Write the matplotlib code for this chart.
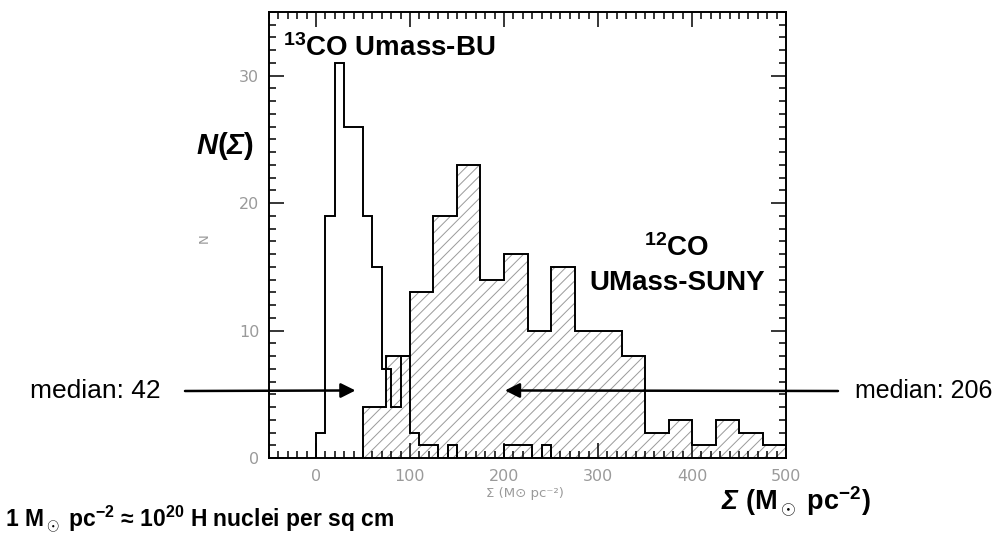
import numpy as np
import matplotlib
matplotlib.use("Agg")
import matplotlib.pyplot as plt

plt.rcParams['font.family'] = ['Liberation Sans', 'DejaVu Sans']
plt.rcParams['mathtext.fontset'] = 'custom'
plt.rcParams['mathtext.rm'] = 'Liberation Sans:bold'
plt.rcParams['mathtext.it'] = 'Liberation Sans:bold:italic'
plt.rcParams['mathtext.bf'] = 'Liberation Sans:bold'
plt.rcParams['mathtext.bfit'] = 'Liberation Sans:bold:italic'
plt.rcParams['hatch.linewidth'] = 0.7

# 13CO (UMass-BU) histogram, bins of 10 from 0 to 500
edges13 = np.arange(0, 510, 10)
co13 = [2, 19, 31, 26, 26, 19, 15, 7, 4, 8,
        2, 1, 1, 0, 1, 0, 0, 0, 0, 0,
        1, 1, 1, 0, 1, 0, 0, 0, 0, 0,
        0, 0, 0, 0, 0, 0, 0, 0, 0, 0,
        0, 0, 0, 0, 0, 0, 0, 0, 0, 0]

# 12CO (UMass-SUNY) histogram, bins of 25 from 50 to 500
edges12 = np.arange(50, 525, 25)
co12 = [4, 8, 13, 19, 23, 14, 16, 10, 15, 10, 10, 8, 2, 3, 1, 3, 2, 1]

median13 = 42
median12 = 206
arrow_y = 5.3

fig = plt.figure(figsize=(9.95, 5.46), dpi=100)
W, H = 995, 546
ax = fig.add_axes([269 / W, 1 - 458 / H, (786 - 269) / W, (458 - 12) / H])

# hatched 12CO
ax.stairs(co12, edges12, fill=True, facecolor='none', edgecolor='#9a9a9a',
          hatch='///', linewidth=0, zorder=1)
ax.stairs(co12, edges12, color='black', linewidth=1.4, zorder=2)
ax.stairs(co13, edges13, color='black', linewidth=1.4, zorder=2)

ax.set_xlim(-50, 500)
ax.set_ylim(0, 35)
ax.set_xticks([0, 100, 200, 300, 400, 500])
ax.set_xticks(np.arange(-50, 501, 10), minor=True)
ax.set_yticks([0, 10, 20, 30])
ax.set_yticks(np.arange(0, 36, 1), minor=True)
ax.tick_params(which='both', direction='in', top=True, right=True,
               width=1.1, color='black', labelcolor='#9a9a9a')
ax.tick_params(which='major', length=11, labelsize=11.5)
ax.tick_params(axis='x', which='major', pad=8)
ax.tick_params(axis='y', which='major', pad=7)
ax.tick_params(which='minor', length=5)
for lab in ax.get_xticklabels() + ax.get_yticklabels():
    lab.set_family('DejaVu Sans')
for s in ax.spines.values():
    s.set_linewidth(1.4)

fig.text(525 / W, 1 - 493 / H, 'Σ (M⊙ pc⁻²)', color='#9a9a9a', fontsize=9.5,
         ha='center', va='center', family='DejaVu Sans')
fig.text(204 / W, 1 - 238 / H, 'N', color='#9a9a9a', fontsize=9.5,
         ha='center', va='center', rotation=90, family='DejaVu Sans')

# annotations
fig.text(283 / W, 1 - 48 / H, r'${}^{13}$CO Umass-BU', fontsize=20,
         fontweight='bold', ha='left', va='center')
fig.text(196 / W, 1 - 146 / H, r'$\mathbfit{N}$($\mathbfit{\Sigma}$)',
         fontsize=21, fontweight='bold', ha='left', va='center')
fig.text(677 / W, 1 - 248 / H, r'${}^{12}$CO', fontsize=20,
         fontweight='bold', ha='center', va='center')
fig.text(677 / W, 1 - 283 / H, 'UMass-SUNY', fontsize=20,
         fontweight='bold', ha='center', va='center')

fig.text(30 / W, 1 - 391 / H, 'median: %d' % median13, fontsize=19,
         ha='left', va='center')
fig.text(855 / W, 1 - 391 / H, 'median: %d' % median12, fontsize=18,
         ha='left', va='center')

arrow = dict(arrowstyle='-|>', color='black', lw=1.8, mutation_scale=22,
             shrinkA=0, shrinkB=0)
ax.annotate('', xy=(median13, arrow_y), xycoords='data',
            xytext=(185, H - 391), textcoords='figure pixels',
            arrowprops=arrow, annotation_clip=False)
ax.annotate('', xy=(201, arrow_y), xycoords='data',
            xytext=(838, H - 391), textcoords='figure pixels',
            arrowprops=arrow, annotation_clip=False)

fig.text(796 / W, 1 - 502 / H, r'$\mathbfit{\Sigma}$ (M$_\odot$ pc$^{-2}$)',
         fontsize=19.5, fontweight='bold', ha='center', va='center')
fig.text(5 / W, 1 - 519 / H,
         r'1 M$_\odot$ pc$^{-2}$ ≈ 10$^{20}$ H nuclei per sq cm',
         fontsize=16.5, fontweight='bold', ha='left', va='center')

fig.savefig('out.png', dpi=100)
